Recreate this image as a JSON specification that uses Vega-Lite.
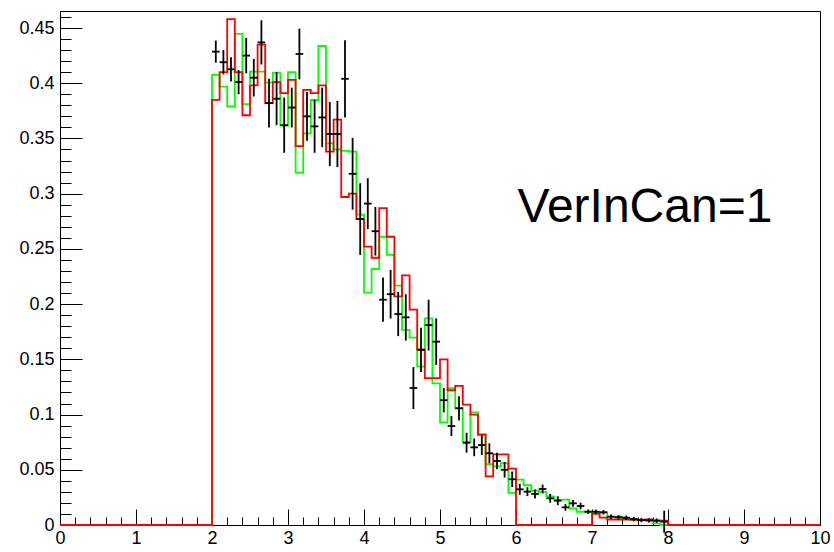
{
  "$schema": "https://vega.github.io/schema/vega-lite/v6.json",
  "width": 760,
  "height": 514,
  "autosize": "none",
  "padding": {"left": 60, "top": 11, "right": 14, "bottom": 27},
  "background": "white",
  "config": {
    "view": {"stroke": "black", "strokeWidth": 1},
    "font": "Liberation Sans",
    "axis": {"domainColor": "black", "tickColor": "black", "labelColor": "black", "grid": false, "labelFont": "Liberation Sans", "labelFontSize": 18, "tickWidth": 1, "domainWidth": 1}
  },
  "datasets": {
    "red": [
      {"x": 0, "y": 0}, {"x": 2.0, "y": 0.385}, {"x": 2.1, "y": 0.410}, {"x": 2.2, "y": 0.458}, {"x": 2.3, "y": 0.410}, {"x": 2.4, "y": 0.371}, {"x": 2.5, "y": 0.398}, {"x": 2.6, "y": 0.435}, {"x": 2.7, "y": 0.382}, {"x": 2.8, "y": 0.401}, {"x": 2.9, "y": 0.391},
      {"x": 3.0, "y": 0.403}, {"x": 3.1, "y": 0.343}, {"x": 3.2, "y": 0.394}, {"x": 3.3, "y": 0.391}, {"x": 3.4, "y": 0.398}, {"x": 3.5, "y": 0.338}, {"x": 3.6, "y": 0.367}, {"x": 3.7, "y": 0.297}, {"x": 3.8, "y": 0.300}, {"x": 3.9, "y": 0.277},
      {"x": 4.0, "y": 0.252}, {"x": 4.1, "y": 0.242}, {"x": 4.2, "y": 0.287}, {"x": 4.3, "y": 0.261}, {"x": 4.4, "y": 0.207}, {"x": 4.5, "y": 0.226}, {"x": 4.6, "y": 0.195}, {"x": 4.7, "y": 0.159}, {"x": 4.8, "y": 0.133}, {"x": 4.9, "y": 0.133},
      {"x": 5.0, "y": 0.150}, {"x": 5.1, "y": 0.122}, {"x": 5.2, "y": 0.126}, {"x": 5.3, "y": 0.109}, {"x": 5.4, "y": 0.100}, {"x": 5.5, "y": 0.082}, {"x": 5.6, "y": 0.044}, {"x": 5.7, "y": 0.064}, {"x": 5.8, "y": 0.064}, {"x": 5.9, "y": 0.051},
      {"x": 6.0, "y": 0}, {"x": 6.1, "y": 0}, {"x": 6.2, "y": 0}, {"x": 6.3, "y": 0}, {"x": 6.4, "y": 0}, {"x": 6.5, "y": 0}, {"x": 6.6, "y": 0}, {"x": 6.7, "y": 0}, {"x": 6.8, "y": 0}, {"x": 6.9, "y": 0},
      {"x": 7.0, "y": 0.010}, {"x": 7.1, "y": 0.0066}, {"x": 7.2, "y": 0.005}, {"x": 7.3, "y": 0.005}, {"x": 7.4, "y": 0.005}, {"x": 7.5, "y": 0.005}, {"x": 7.6, "y": 0.0045}, {"x": 7.7, "y": 0.005}, {"x": 7.8, "y": 0.004}, {"x": 7.9, "y": 0.004},
      {"x": 8.0, "y": 0}, {"x": 10, "y": 0}
    ],
    "green": [
      {"x": 0, "y": 0}, {"x": 2.0, "y": 0.4075}, {"x": 2.1, "y": 0.397}, {"x": 2.2, "y": 0.379}, {"x": 2.3, "y": 0.4446}, {"x": 2.4, "y": 0.381}, {"x": 2.5, "y": 0.4105}, {"x": 2.6, "y": 0.4105}, {"x": 2.7, "y": 0.4005}, {"x": 2.8, "y": 0.4096}, {"x": 2.9, "y": 0.3616},
      {"x": 3.0, "y": 0.410}, {"x": 3.1, "y": 0.319}, {"x": 3.2, "y": 0.3546}, {"x": 3.3, "y": 0.3848}, {"x": 3.4, "y": 0.4337}, {"x": 3.5, "y": 0.3456}, {"x": 3.6, "y": 0.340}, {"x": 3.7, "y": 0.3387}, {"x": 3.8, "y": 0.338}, {"x": 3.9, "y": 0.281},
      {"x": 4.0, "y": 0.2104}, {"x": 4.1, "y": 0.2318}, {"x": 4.2, "y": 0.261}, {"x": 4.3, "y": 0.2445}, {"x": 4.4, "y": 0.2167}, {"x": 4.5, "y": 0.1766}, {"x": 4.6, "y": 0.1696}, {"x": 4.7, "y": 0.1434}, {"x": 4.8, "y": 0.1871}, {"x": 4.9, "y": 0.1283},
      {"x": 5.0, "y": 0.093}, {"x": 5.1, "y": 0.124}, {"x": 5.2, "y": 0.106}, {"x": 5.3, "y": 0.075}, {"x": 5.4, "y": 0.102}, {"x": 5.5, "y": 0.0815}, {"x": 5.6, "y": 0.055}, {"x": 5.7, "y": 0.053}, {"x": 5.8, "y": 0.056}, {"x": 5.9, "y": 0.029},
      {"x": 6.0, "y": 0.041}, {"x": 6.1, "y": 0.036}, {"x": 6.2, "y": 0.031}, {"x": 6.3, "y": 0.030}, {"x": 6.4, "y": 0.026}, {"x": 6.5, "y": 0.023}, {"x": 6.6, "y": 0.023}, {"x": 6.7, "y": 0.015}, {"x": 6.8, "y": 0.012}, {"x": 6.9, "y": 0.012},
      {"x": 7.0, "y": 0.0115}, {"x": 7.1, "y": 0.0115}, {"x": 7.2, "y": 0.0075}, {"x": 7.3, "y": 0.0075}, {"x": 7.4, "y": 0.006}, {"x": 7.5, "y": 0.0045}, {"x": 7.6, "y": 0.0045}, {"x": 7.7, "y": 0.004}, {"x": 7.8, "y": 0.0015}, {"x": 7.9, "y": 0},
      {"x": 8.0, "y": 0}, {"x": 10, "y": 0}
    ],
    "pts": [
      {"x": 2.05, "y": 0.4286, "e": 0.010}, {"x": 2.15, "y": 0.419, "e": 0.011}, {"x": 2.25, "y": 0.4126, "e": 0.011}, {"x": 2.35, "y": 0.401, "e": 0.011}, {"x": 2.45, "y": 0.425, "e": 0.016},
      {"x": 2.55, "y": 0.405, "e": 0.017}, {"x": 2.65, "y": 0.437, "e": 0.020}, {"x": 2.75, "y": 0.382, "e": 0.022}, {"x": 2.85, "y": 0.386, "e": 0.024}, {"x": 2.95, "y": 0.362, "e": 0.025},
      {"x": 3.05, "y": 0.378, "e": 0.018}, {"x": 3.15, "y": 0.4265, "e": 0.023}, {"x": 3.25, "y": 0.370, "e": 0.022}, {"x": 3.35, "y": 0.361, "e": 0.024}, {"x": 3.45, "y": 0.369, "e": 0.027},
      {"x": 3.55, "y": 0.354, "e": 0.029}, {"x": 3.65, "y": 0.354, "e": 0.030}, {"x": 3.75, "y": 0.404, "e": 0.035}, {"x": 3.85, "y": 0.318, "e": 0.0325}, {"x": 3.95, "y": 0.277, "e": 0.0325},
      {"x": 4.05, "y": 0.291, "e": 0.023}, {"x": 4.15, "y": 0.266, "e": 0.022}, {"x": 4.25, "y": 0.204, "e": 0.020}, {"x": 4.35, "y": 0.209, "e": 0.022}, {"x": 4.45, "y": 0.191, "e": 0.020},
      {"x": 4.55, "y": 0.188, "e": 0.021}, {"x": 4.65, "y": 0.124, "e": 0.019}, {"x": 4.75, "y": 0.1585, "e": 0.020}, {"x": 4.85, "y": 0.181, "e": 0.023}, {"x": 4.95, "y": 0.166, "e": 0.021},
      {"x": 5.05, "y": 0.113, "e": 0.011}, {"x": 5.15, "y": 0.0896, "e": 0.009}, {"x": 5.25, "y": 0.1056, "e": 0.011}, {"x": 5.35, "y": 0.0745, "e": 0.009}, {"x": 5.45, "y": 0.0703, "e": 0.008},
      {"x": 5.55, "y": 0.0724, "e": 0.009}, {"x": 5.65, "y": 0.0649, "e": 0.009}, {"x": 5.75, "y": 0.058, "e": 0.0075}, {"x": 5.85, "y": 0.050, "e": 0.007}, {"x": 5.95, "y": 0.0414, "e": 0.007},
      {"x": 6.05, "y": 0.0323, "e": 0.005}, {"x": 6.15, "y": 0.0302, "e": 0.004}, {"x": 6.25, "y": 0.0281, "e": 0.004}, {"x": 6.35, "y": 0.0326, "e": 0.004}, {"x": 6.45, "y": 0.0242, "e": 0.004},
      {"x": 6.55, "y": 0.022, "e": 0.004}, {"x": 6.65, "y": 0.016, "e": 0.003}, {"x": 6.75, "y": 0.0196, "e": 0.003}, {"x": 6.85, "y": 0.0172, "e": 0.003}, {"x": 6.95, "y": 0.012, "e": 0.002},
      {"x": 7.05, "y": 0.012, "e": 0.002}, {"x": 7.15, "y": 0.0115, "e": 0.002}, {"x": 7.25, "y": 0.0075, "e": 0.002}, {"x": 7.35, "y": 0.007, "e": 0.002}, {"x": 7.45, "y": 0.0066, "e": 0.002},
      {"x": 7.55, "y": 0.0054, "e": 0.002}, {"x": 7.65, "y": 0.0045, "e": 0.002}, {"x": 7.75, "y": 0.0042, "e": 0.002}, {"x": 7.85, "y": 0.004, "e": 0.002}, {"x": 7.95, "y": 0.003, "e": 0.010}
    ],
    "note": [{"label": "VerInCan=1"}]
  },
  "resolve": {"axis": {"x": "independent", "y": "independent"}},
  "layer": [
    {
      "data": {"name": "green"},
      "mark": {"type": "line", "interpolate": "step-after", "color": "#00ff00", "strokeWidth": 1.8},
      "encoding": {
        "x": {"field": "x", "type": "quantitative", "scale": {"domain": [0, 10], "nice": false, "zero": false},
          "axis": {"orient": "bottom", "title": null, "labels": false, "domain": false, "tickSize": -8,
            "values": [0,0.2,0.4,0.6,0.8,1,1.2,1.4,1.6,1.8,2,2.2,2.4,2.6,2.8,3,3.2,3.4,3.6,3.8,4,4.2,4.4,4.6,4.8,5,5.2,5.4,5.6,5.8,6,6.2,6.4,6.6,6.8,7,7.2,7.4,7.6,7.8,8,8.2,8.4,8.6,8.8,9,9.2,9.4,9.6,9.8,10]}},
        "y": {"field": "y", "type": "quantitative", "scale": {"domain": [0, 0.4654], "nice": false},
          "axis": {"orient": "left", "title": null, "labels": false, "domain": false, "tickSize": -11,
            "values": [0,0.01,0.02,0.03,0.04,0.05,0.06,0.07,0.08,0.09,0.1,0.11,0.12,0.13,0.14,0.15,0.16,0.17,0.18,0.19,0.2,0.21,0.22,0.23,0.24,0.25,0.26,0.27,0.28,0.29,0.3,0.31,0.32,0.33,0.34,0.35,0.36,0.37,0.38,0.39,0.4,0.41,0.42,0.43,0.44,0.45,0.46]}}
      }
    },
    {
      "data": {"name": "red"},
      "mark": {"type": "line", "interpolate": "step-after", "color": "#ff0000", "strokeWidth": 1.8},
      "encoding": {
        "x": {"field": "x", "type": "quantitative",
          "axis": {"orient": "bottom", "title": null, "tickSize": -16, "labelPadding": 20, "values": [0,1,2,3,4,5,6,7,8,9,10], "labelFlush": false}},
        "y": {"field": "y", "type": "quantitative",
          "axis": {"orient": "left", "title": null, "tickSize": -22, "labelPadding": 28, "format": "~g", "values": [0,0.05,0.1,0.15,0.2,0.25,0.3,0.35,0.4,0.45], "labelFlush": false}}
      }
    },
    {
      "data": {"name": "pts"},
      "mark": {"type": "errorbar", "ticks": false, "rule": {"stroke": "black", "strokeWidth": 1.8}},
      "encoding": {
        "x": {"field": "x", "type": "quantitative", "axis": null},
        "y": {"field": "y", "type": "quantitative", "axis": null},
        "yError": {"field": "e"}
      }
    },
    {
      "data": {"name": "pts"},
      "mark": {"type": "tick", "orient": "horizontal", "color": "black", "size": 7.6, "thickness": 1.8, "opacity": 1},
      "encoding": {
        "x": {"field": "x", "type": "quantitative", "axis": null},
        "y": {"field": "y", "type": "quantitative", "axis": null}
      }
    },
    {
      "data": {"name": "note"},
      "mark": {"type": "text", "align": "left", "baseline": "alphabetic", "fontSize": 48, "font": "Liberation Sans", "color": "black"},
      "encoding": {
        "x": {"datum": 6.02, "type": "quantitative", "axis": null},
        "y": {"datum": 0.2744, "type": "quantitative", "axis": null},
        "text": {"field": "label"}
      }
    }
  ]
}
